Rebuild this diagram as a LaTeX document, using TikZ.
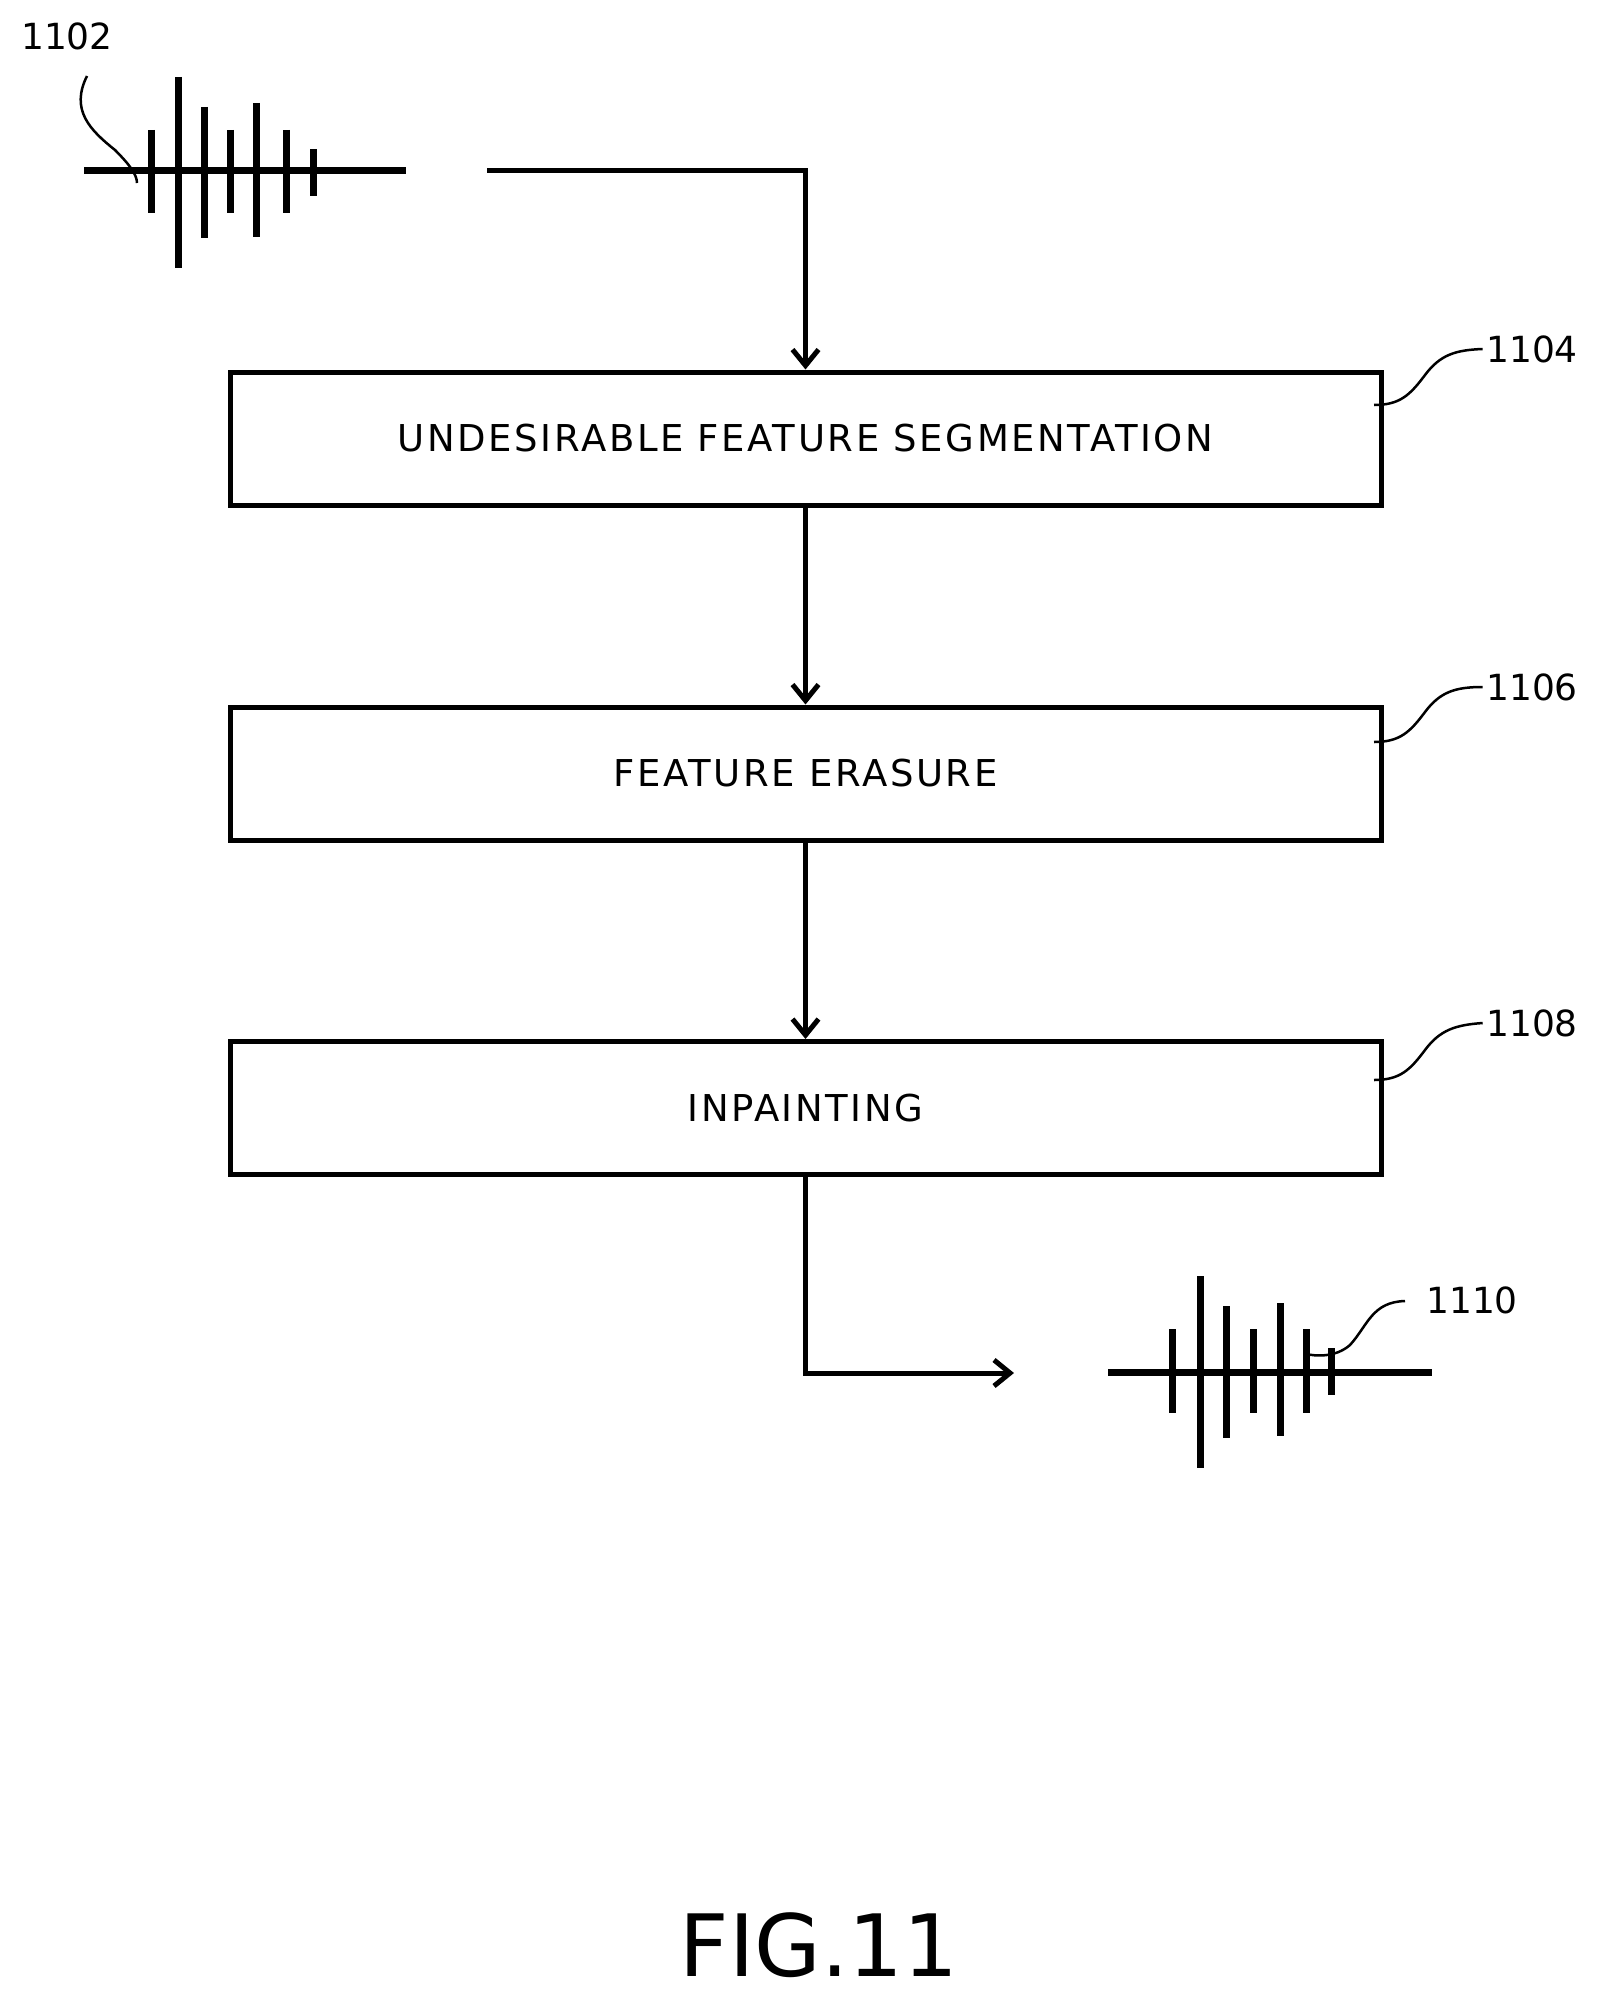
\documentclass[tikz,border=0pt]{standalone}
\usepackage{fontspec}
\setmainfont{DejaVu Sans}
\usetikzlibrary{arrows.meta}
\begin{document}
\begin{tikzpicture}[x=1pt,y=-1pt,
  box/.style={draw,line width=5pt,minimum width=1151pt,minimum height=133pt,font=\fontsize{37}{40}\selectfont\addfontfeatures{LetterSpace=7}},
  lbl/.style={font=\fontsize{36}{40}\selectfont},
  flow/.style={line width=5pt,-{Straight Barb[length=16pt,width=26pt,line width=5pt]}},
  wave/.style={line width=7pt},
  lead/.style={line width=2.5pt}]
\useasboundingbox (0,0) rectangle (1598,1999);
\node[box] (b1) at (805.5,438.5) {UNDESIRABLE FEATURE SEGMENTATION};
\node[box] (b2) at (805.5,773.5) {FEATURE ERASURE};
\node[box] (b3) at (805.5,1108) {INPAINTING};
% input waveform
\coordinate (ws) at (487,170);
\draw[wave] (84,170) -- (406,170);
\foreach \x/\a/\b in {151/130/213,178/77/268,204/107/238,230/130/213,256/103/237,286/130/213,313/149/196}
  \draw[wave] (\x,\a) -- (\x,\b);
\node[lbl] (l1102) at (67,36) {1102};
\draw[lead] (87,76) .. controls (70,110) and (90,130) .. (115,150) .. controls (130,165) and (137,175) .. (137,183);
% output waveform
\draw[wave] (1108,1372) -- (1432,1372);
\foreach \x/\a/\b in {1172/1329/1413,1200/1276/1468,1226/1306/1438,1253/1329/1413,1280/1303/1436,1306/1329/1413,1331/1348/1395}
  \draw[wave] (\x,\a) -- (\x,\b);
\node[lbl] (l1110) at (1472,1300) {1110};
\draw[lead] (1306,1354) .. controls (1315,1356) and (1335,1358) .. (1350,1345) .. controls (1368,1325) and (1372,1302) .. (1405,1301);
% flow
\coordinate (wo) at (1014,1373);
\draw[flow] (ws) -- (805.5,170) -- (b1.north);
\draw[flow] (b1) -- (b2);
\draw[flow] (b2) -- (b3);
\draw[flow] (b3.south) |- (wo);
% labels
\node[lbl] (l1104) at (1532,349) {1104};
\node[lbl] (l1106) at (1532,687) {1106};
\node[lbl] (l1108) at (1532,1023) {1108};
\foreach \y/\n in {405/l1104,742/l1106,1080/l1108}
  \draw[lead] (1374,\y) .. controls (1400,\y) and (1410,\y-10) .. (1425,\y-30) .. controls (1440,\y-50) and (1455,\y-55) .. (\n.west);
\node[font=\fontsize{86}{90}\selectfont] (fig) at (819,1945) {FIG.11};
\end{tikzpicture}
\end{document}
